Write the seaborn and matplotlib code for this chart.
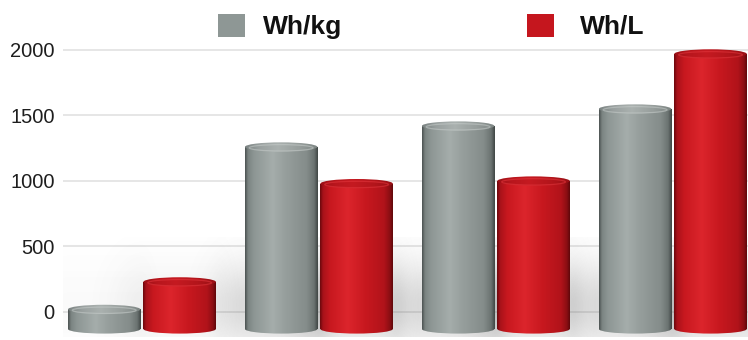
import numpy as np
import pandas as pd
import matplotlib
matplotlib.use("Agg")
import matplotlib.pyplot as plt
import seaborn as sns
from matplotlib.patches import Ellipse, Rectangle
from matplotlib.colors import LinearSegmentedColormap

# ---- data ----
categories = ["1", "2", "3", "4"]
series = ["Wh/kg", "Wh/L"]
wh_kg = [20, 1260, 1420, 1550]
wh_l = [230, 980, 1000, 1970]
yticks = [0, 500, 1000, 1500, 2000]

# ---- style ----
FLOOR = -130          # depth of the pseudo-3D floor below the zero line
CAP_H = 70            # height (data units) of the elliptical cylinder caps
palette = {"Wh/kg": "#8e9795", "Wh/L": "#c5161e"}
body_cmaps = {
    "Wh/kg": LinearSegmentedColormap.from_list("g", [
        (0.0, "#4a5150"), (0.04, "#7b8482"), (0.12, "#8d9694"), (0.38, "#a5adab"),
        (0.55, "#979f9d"), (0.85, "#848c8a"), (0.95, "#6b7371"), (1.0, "#3f4544")]),
    "Wh/L": LinearSegmentedColormap.from_list("r", [
        (0.0, "#6a080c"), (0.04, "#a8121a"), (0.14, "#c8181f"), (0.38, "#dc252c"),
        (0.62, "#c8181f"), (0.88, "#b1131a"), (0.96, "#8a0e13"), (1.0, "#5e070a")]),
}
cap_cmaps = {
    "Wh/kg": LinearSegmentedColormap.from_list("gc", [
        (0.0, "#7a8281"), (0.2, "#9aa1a0"), (0.45, "#aab1af"), (0.75, "#979e9c"), (1.0, "#7c8482")]),
    "Wh/L": LinearSegmentedColormap.from_list("rc", [
        (0.0, "#9a1016"), (0.2, "#b8161d"), (0.45, "#c51a21"), (0.75, "#b3151b"), (1.0, "#971015")]),
}

df = pd.DataFrame({
    "category": categories * 2,
    "series": [series[0]] * len(categories) + [series[1]] * len(categories),
    "value": wh_kg + wh_l,
})
df["height"] = df["value"] - FLOOR

sns.set_theme(style="white")
plt.rcParams["font.family"] = ["Liberation Sans", "DejaVu Sans"]

fig = plt.figure(figsize=(7.48, 3.4), dpi=100)
ax = fig.add_axes([63 / 748, 0, 685 / 748, 300 / 340])

sns.barplot(data=df, x="category", y="height", hue="series", order=categories,
            hue_order=series, palette=palette, width=0.853, gap=0.04,
            bottom=FLOOR, legend=False, ax=ax, zorder=3)

grad = np.linspace(0, 1, 256).reshape(1, -1)
bars = list(ax.patches)
for i, bar in enumerate(bars):
    s = series[i // len(categories)]
    x0 = bar.get_x()
    w = bar.get_width()
    y0 = bar.get_y()
    y1 = y0 + bar.get_height()
    cx = x0 + w / 2
    bar.set_alpha(0)

    # soft shadow on the floor / back wall
    strength = 0.22 * min(1.0, (y1 - y0) / 1100)
    sx0, sx1 = x0 - 0.38, x0 + w + 0.2
    sy0, sy1 = y0 - 60, y0 + 700
    xs = np.linspace(sx0, sx1, 200)
    ys = np.linspace(sy0, sy1, 120)
    X, Y = np.meshgrid(xs, ys)
    dx = np.where(X < x0, x0 - X, np.where(X > x0 + w, X - (x0 + w), 0.0))
    ax_ = np.exp(-(dx / np.where(X < x0, 0.17, 0.08)) ** 2)
    ay_ = np.exp(-((Y - (y0 + 180)) / 330) ** 2)
    rgba = np.zeros(X.shape + (4,))
    rgba[..., :3] = 0.35
    rgba[..., 3] = strength * ax_ * ay_
    ax.imshow(rgba, extent=[sx0, sx1, sy0, sy1], origin="lower", aspect="auto",
              zorder=2, interpolation="bilinear")

    # cylinder body
    clip_r = Rectangle((x0, y0), w, y1 - y0, transform=ax.transData)
    im = ax.imshow(grad, extent=[x0, x0 + w, y0 - CAP_H, y1], aspect="auto",
                   cmap=body_cmaps[s], zorder=4, interpolation="bicubic")
    im.set_clip_path(clip_r)
    # rounded bottom
    clip_b = Ellipse((cx, y0), w, CAP_H, transform=ax.transData)
    im2 = ax.imshow(grad, extent=[x0, x0 + w, y0 - CAP_H, y1], aspect="auto",
                    cmap=body_cmaps[s], zorder=4, interpolation="bicubic")
    im2.set_clip_path(clip_b)
    # top cap
    clip_t = Ellipse((cx, y1), w, CAP_H, transform=ax.transData)
    im3 = ax.imshow(grad, extent=[x0, x0 + w, y1 - CAP_H, y1 + CAP_H], aspect="auto",
                    cmap=cap_cmaps[s], zorder=5, interpolation="bicubic")
    im3.set_clip_path(clip_t)
    rim = "#c6ccca" if s == "Wh/kg" else "#e4373e"
    ax.add_patch(Ellipse((cx, y1 - CAP_H * 0.1), w * 0.88, CAP_H * 0.7, fill=False,
                         edgecolor=rim, lw=0.9, alpha=0.55, zorder=6))

ax.set_xlim(-0.446, 3.425)
ax.set_ylim(-214, 2076)
ax.set_yticks(yticks)
ax.set_yticklabels([str(t) for t in yticks])
ax.tick_params(axis="y", labelsize=14.5, pad=6, length=0, labelcolor="#1e1e1e")
ax.set_xticks([])
ax.set_xlabel("")
ax.set_ylabel("")
ax.grid(axis="y", color="#e6e6e6", lw=1.4, zorder=0)
ax.grid(axis="x", visible=False)
for sp in ax.spines.values():
    sp.set_visible(False)

# legend
for (xl, xt, s) in [(218, 263, "Wh/kg"), (527, 580, "Wh/L")]:
    fig.patches.append(Rectangle((xl / 748, 1 - 37 / 340), 27 / 748, 23 / 340,
                                 transform=fig.transFigure, facecolor=palette[s],
                                 edgecolor="none"))
    fig.text(xt / 748, 1 - 27 / 340, s, fontsize=19, fontweight="bold",
             color="#111111", va="center", ha="left")

fig.savefig("out.png", dpi=100, facecolor="white")
